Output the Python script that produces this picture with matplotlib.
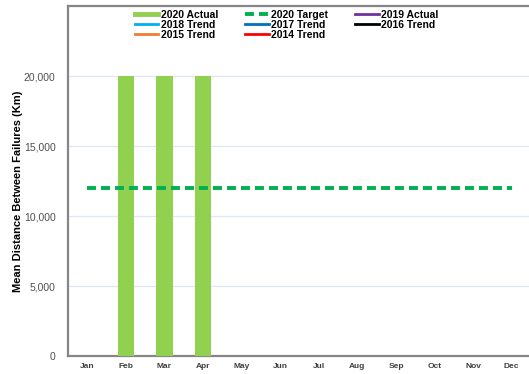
import matplotlib.pyplot as plt
from matplotlib.lines import Line2D

plt.rcParams['font.family'] = ['Liberation Sans', 'DejaVu Sans']

# chart data
months = ['Jan', 'Feb', 'Mar', 'Apr', 'May', 'Jun', 'Jul', 'Aug', 'Sep', 'Oct', 'Nov', 'Dec']
actual_2020 = [None, 20000, 20000, 20000, None, None, None, None, None, None, None, None]
target_2020 = [12000] * 12
yticks = [0, 5000, 10000, 15000, 20000]

# legend-only series (no data shown in the chart)
trend_names = ['2019 Actual', '2018 Trend', '2017 Trend', '2016 Trend', '2015 Trend', '2014 Trend']
trend_colors = ['#7030A0', '#00B0F0', '#0070C0', '#000000', '#ED7D31', '#FF0000']

fig = plt.figure(figsize=(5.29, 3.74), dpi=100)
ax = fig.add_axes([68 / 529, 1 - 356 / 374, (531 - 68) / 529, (356 - 6) / 374])

x = list(range(len(months)))
bx = [i for i, v in zip(x, actual_2020) if v is not None]
bv = [v for v in actual_2020 if v is not None]
ax.bar(bx, bv, width=0.42, color='#92D050', zorder=3)
ax.plot(x, target_2020, color='#00B050', lw=2.8, dashes=(2.3, 1.3), zorder=4)

ax.set_xlim(-0.5, 11.5)
ax.set_ylim(0, 25000)
ax.set_yticks(yticks)
ax.set_yticklabels([f'{v:,}' for v in yticks], fontsize=7.5, color='#505050')
ax.set_xticks(x)
ax.set_xticklabels(months, fontsize=6, fontweight='bold', color='#404040')
ax.tick_params(length=0, pad=5)
ax.tick_params(axis='y', pad=9)
ax.grid(axis='y', color='#DCE6F5', lw=0.9, zorder=0)

for s in ['left', 'top', 'bottom', 'right']:
    ax.spines[s].set_color('#868686')
    ax.spines[s].set_linewidth(1.6)

ax.set_ylabel('Mean Distance Between Failures (Km)', fontsize=8, fontweight='bold')
ax.yaxis.set_label_coords(-45 / 463, 0.47)

h_actual = Line2D([], [], color='#92D050', lw=3.5)
h_target = Line2D([], [], color='#00B050', lw=2.8, dashes=(2.3, 1.3))
h_tr = [Line2D([], [], color=c, lw=2) for c in trend_colors]
h_all = [h_actual, h_target] + h_tr
n_all = ['2020 Actual', '2020 Target'] + trend_names
order = [0, 3, 6, 1, 4, 7, 2, 5]
ax.legend([h_all[i] for i in order], [n_all[i] for i in order], ncol=3, loc='upper center',
          bbox_to_anchor=(0.472, 1.004), frameon=False, prop={'size': 7.5, 'weight': 'bold'},
          handlelength=2.3, handletextpad=0.2, labelspacing=0.0, columnspacing=2.6,
          borderaxespad=0.1)

fig.savefig('out.png', dpi=100)
